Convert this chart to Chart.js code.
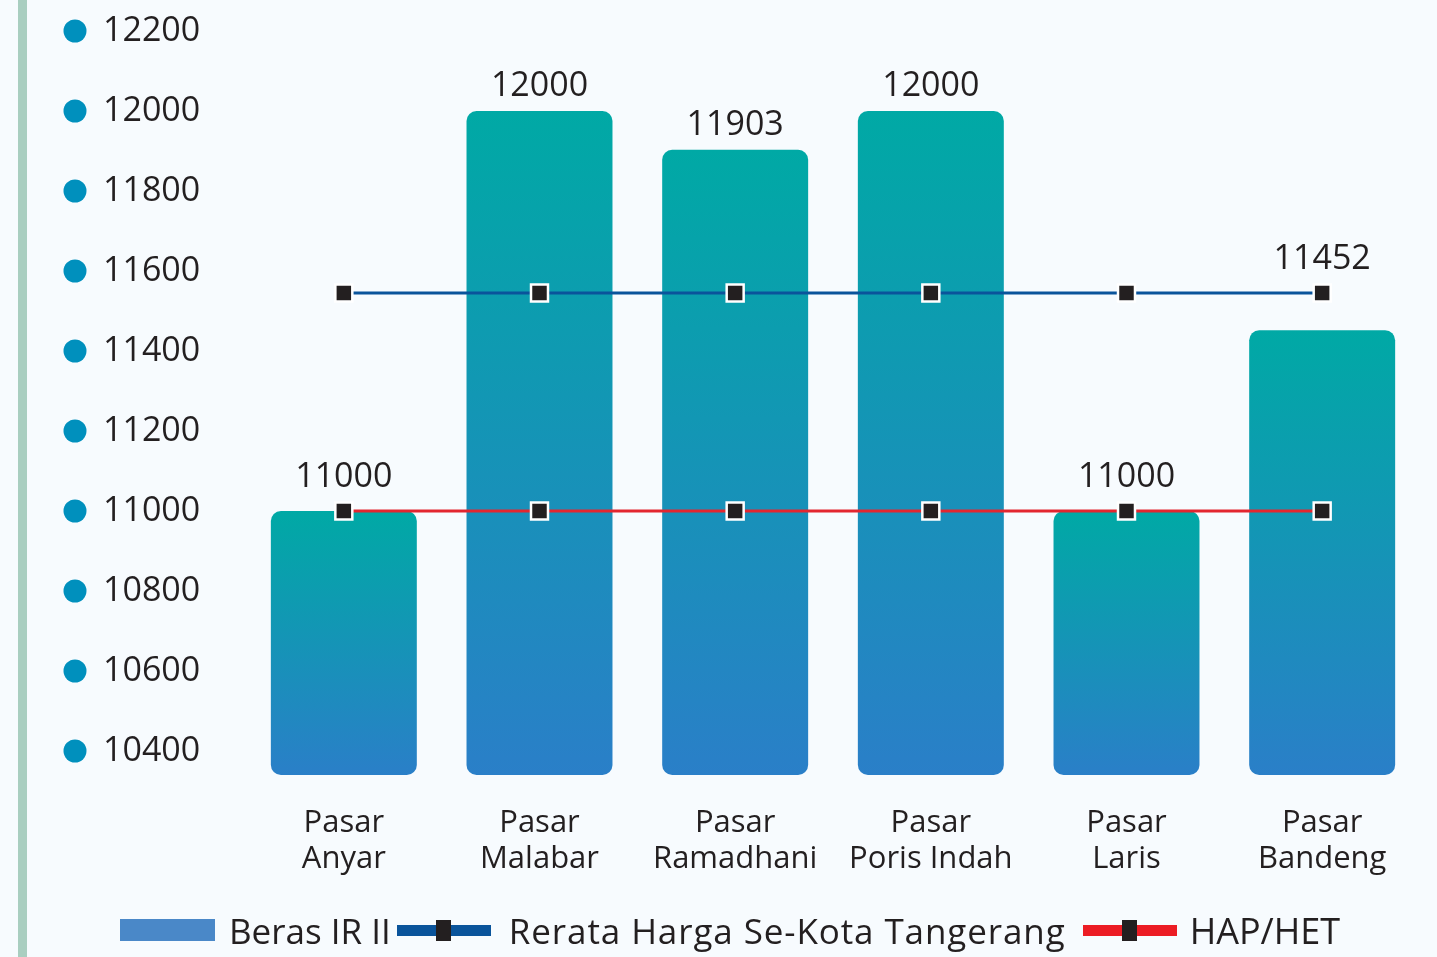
<html lang="id">
  <head>
    <meta charset="UTF-8" />
    <title>Harga Beras IR II</title>
    <script src="https://cdn.jsdelivr.net/npm/chart.js@4.4.1/dist/chart.umd.min.js"></script>
    <style>
      body { margin: 0; background: #f7fbfe; font-family: "Open Sans", sans-serif; color: #231f20; }
      .wrap { position: relative; width: 1437px; height: 957px; overflow: hidden; }
      .strip { position: absolute; left: 18px; top: 0; width: 9px; height: 957px; background: #a9cec0; }
      canvas { position: absolute; left: 0; top: 0; }
      .legend { position: absolute; left: 120px; top: 906px; height: 48px; display: flex; align-items: center; font-size: 35px; white-space: nowrap; }
      .box { width: 95px; height: 22px; background: #4a88c8; margin-right: 14px; }
      .ln { position: relative; width: 94px; height: 11px; }
      .ln span { position: absolute; left: 39px; top: -5px; width: 15px; height: 21px; background: #231f20; }
    </style>
  </head>
  <body>
    <div class="wrap">
      <div class="strip"></div>
      <canvas id="chart" width="1437" height="957"></canvas>
      <div class="legend">
        <div class="box"></div>
        <div>Beras IR II</div>
        <div class="ln" style="background:#0a549b;margin-left:6px;margin-right:18px"><span></span></div>
        <div style="letter-spacing:0.9px">Rerata Harga Se-Kota Tangerang</div>
        <div class="ln" style="background:#ec1c24;margin-left:17px;margin-right:13px"><span></span></div>
        <div style="font-size:36px">HAP/HET</div>
      </div>
    </div>
    <script>
      // data
      const pasar = [["Pasar", "Anyar"], ["Pasar", "Malabar"], ["Pasar", "Ramadhani"], ["Pasar", "Poris Indah"], ["Pasar", "Laris"], ["Pasar", "Bandeng"]];
      const berasIR2 = [11000, 12000, 11903, 12000, 11000, 11452];
      const rerataKota = [11545, 11545, 11545, 11545, 11545, 11545];
      const hapHet = [11000, 11000, 11000, 11000, 11000, 11000];
      const yTicks = [10400, 10600, 10800, 11000, 11200, 11400, 11600, 11800, 12000, 12200];
      const yMin = 10340;
      const yMax = 12200;

      const textColor = "#231f20";

      function barGradient(ctx) {
        const chart = ctx.chart;
        const area = chart.chartArea;
        if (!area || ctx.dataIndex === undefined) return "#00a9a5";
        const top = chart.scales.y.getPixelForValue(berasIR2[ctx.dataIndex]);
        const g = chart.ctx.createLinearGradient(0, top, 0, area.bottom);
        g.addColorStop(0, "#00a9a5");
        g.addColorStop(1, "#2a7fc8");
        return g;
      }

      // blue dots next to y labels + value labels on bars
      const extras = {
        id: "extras",
        afterDraw(chart) {
          const c = chart.ctx;
          const y = chart.scales.y;
          c.save();
          c.fillStyle = "#0090bd";
          y.ticks.forEach((t) => {
            c.beginPath();
            c.arc(75, y.getPixelForValue(t.value), 11.5, 0, Math.PI * 2);
            c.fill();
          });

          const bars = chart.getDatasetMeta(2).data;
          const pts = [chart.getDatasetMeta(0).data, chart.getDatasetMeta(1).data];
          c.fillStyle = textColor;
          c.font = "34px 'Open Sans'";
          c.textAlign = "center";
          c.textBaseline = "alphabetic";
          bars.forEach((b, i) => {
            let base = b.y - 15;
            pts.forEach((set) => {
              const p = set[i];
              if (p.y <= b.y + 2 && p.y > b.y - 60) base = Math.min(base, p.y - 24);
            });
            c.fillText(String(berasIR2[i]), b.x, base);
          });
          c.restore();
        },
      };

      new Chart(document.getElementById("chart"), {
        data: {
          labels: pasar,
          datasets: [
            {
              type: "line",
              label: "Rerata Harga Se-Kota Tangerang",
              data: rerataKota,
              borderColor: "#0a549b",
              borderWidth: 3,
              pointStyle: "rect",
              pointRadius: 12,
              pointBackgroundColor: "#231f20",
              pointBorderColor: "#ffffff",
              pointBorderWidth: 2.5,
              order: 1,
            },
            {
              type: "line",
              label: "HAP/HET",
              data: hapHet,
              borderColor: "#e3262f",
              borderWidth: 3,
              pointStyle: "rect",
              pointRadius: 12,
              pointBackgroundColor: "#231f20",
              pointBorderColor: "#ffffff",
              pointBorderWidth: 2.5,
              order: 2,
            },
            {
              type: "bar",
              label: "Beras IR II",
              data: berasIR2,
              base: yMin,
              backgroundColor: barGradient,
              borderRadius: 10,
              borderSkipped: false,
              categoryPercentage: 1,
              barPercentage: 0.746,
              order: 3,
            },
          ],
        },
        options: {
          responsive: false,
          animation: false,
          layout: { padding: { top: 31, left: 103, right: 17, bottom: 72 } },
          plugins: { legend: { display: false }, tooltip: { enabled: false } },
          scales: {
            x: {
              grid: { display: false },
              border: { display: false },
              ticks: {
                color: textColor,
                font: { family: "'Open Sans'", size: 31, lineHeight: 1.17 },
                padding: 22,
                maxRotation: 0,
                autoSkip: false,
              },
              afterFit(scale) { scale.height = 110; },
            },
            y: {
              min: yMin,
              max: yMax,
              grid: { display: false },
              border: { display: false },
              afterBuildTicks(scale) { scale.ticks = yTicks.map((v) => ({ value: v })); },
              afterFit(scale) { scale.width = 143; },
              ticks: {
                color: textColor,
                crossAlign: "far",
                padding: 0,
                font: { family: "'Open Sans'", size: 34 },
                callback: (v) => String(v),
              },
            },
          },
        },
        plugins: [extras],
      });
    </script>
  </body>
</html>
